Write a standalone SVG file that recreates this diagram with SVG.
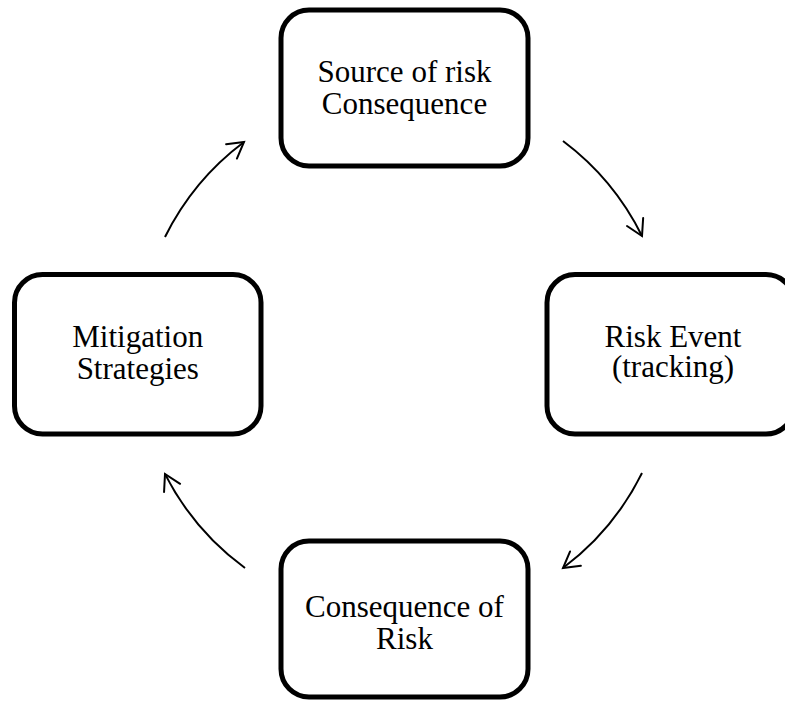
<svg xmlns="http://www.w3.org/2000/svg" width="785" height="702" viewBox="0 0 785 702">
  <style>
    .box { fill: #ffffff; stroke: #000000; stroke-width: 5; }
    .label { font-family: "Liberation Serif", "Times New Roman", serif; font-size: 31px; fill: #000000; text-anchor: middle; }
    .flow { fill: none; stroke: #000000; stroke-width: 2; marker-end: url(#head); }
  </style>
  <defs>
    <marker id="head" markerUnits="userSpaceOnUse" markerWidth="40" markerHeight="40" refX="0" refY="0" orient="auto" overflow="visible">
      <path d="M -15.6 -9 L 0 0 L -15.6 9" fill="none" stroke="#000000" stroke-width="2" stroke-linejoin="miter" stroke-linecap="round"/>
    </marker>
  </defs>
  <rect width="785" height="702" fill="#ffffff"/>

  <!-- cycle connectors: arcs of one circle around the diagram centre -->
  <g id="connectors">
    <path class="flow" d="M 165 237 A 266 266 0 0 1 244 142"/>
    <path class="flow" d="M 563 141 A 266 266 0 0 1 642 236"/>
    <path class="flow" d="M 642 473 A 266 266 0 0 1 563 568"/>
    <path class="flow" d="M 245 568 A 266 266 0 0 1 165 474"/>
  </g>

  <g id="source">
    <rect class="box" x="281" y="10" width="247" height="156" rx="28" ry="28"/>
    <text class="label" x="404.5" y="82">Source of risk</text>
    <text class="label" x="404.5" y="113.5">Consequence</text>
  </g>

  <g id="risk-event">
    <rect class="box" x="547" y="274.5" width="247" height="159.5" rx="28" ry="28"/>
    <text class="label" x="673" y="346.5">Risk Event</text>
    <text class="label" x="673" y="377">(tracking)</text>
  </g>

  <g id="consequence">
    <rect class="box" x="281" y="541" width="247" height="156" rx="28" ry="28"/>
    <text class="label" x="404.5" y="617">Consequence of</text>
    <text class="label" x="404.5" y="648.5">Risk</text>
  </g>

  <g id="mitigation">
    <rect class="box" x="14.5" y="274.5" width="246.5" height="159.5" rx="28" ry="28"/>
    <text class="label" x="137.75" y="347">Mitigation</text>
    <text class="label" x="137.75" y="378.5">Strategies</text>
  </g>
</svg>
